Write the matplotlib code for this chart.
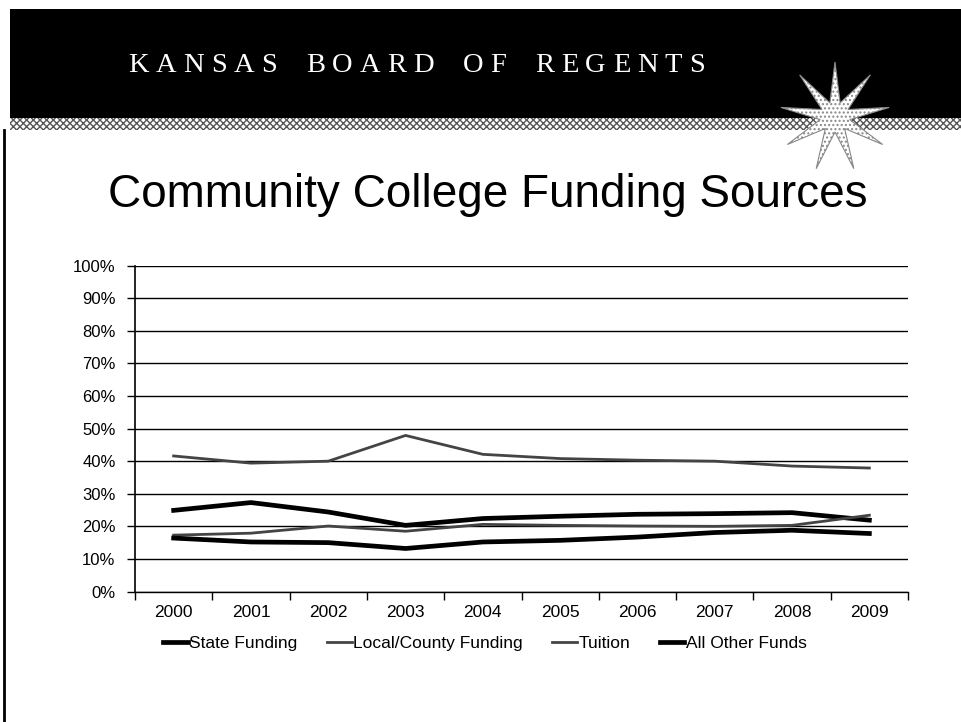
import numpy as np
import matplotlib.pyplot as plt
from matplotlib.patches import Rectangle, Polygon

years = ['2000', '2001', '2002', '2003', '2004', '2005', '2006', '2007', '2008', '2009']
state = [24.9, 27.3, 24.4, 20.3, 22.4, 23.1, 23.7, 23.9, 24.2, 21.9]
local = [41.6, 39.4, 40.0, 47.9, 42.1, 40.8, 40.3, 40.0, 38.5, 37.9]
tuition = [17.3, 17.9, 20.1, 18.5, 20.6, 20.3, 20.1, 20.0, 20.3, 23.4]
other = [16.4, 15.2, 15.0, 13.2, 15.2, 15.7, 16.7, 18.1, 18.8, 17.8]
series_names = ['State Funding', 'Local/County Funding', 'Tuition', 'All Other Funds']
y_ticks = [0, 10, 20, 30, 40, 50, 60, 70, 80, 90, 100]

W, H = 962, 722
fig = plt.figure(figsize=(W / 100, H / 100), dpi=100)

# background layer in pixel coordinates (header band, star, page border)
bg = fig.add_axes([0, 0, 1, 1], zorder=0)
bg.set_xlim(0, W)
bg.set_ylim(H, 0)
bg.axis('off')
bg.add_patch(Rectangle((10, 9), W - 10, 109, facecolor='black', edgecolor='none'))
bg.add_patch(Rectangle((10, 118), W - 10, 12, facecolor='white', edgecolor='#555555',
                       hatch='xxxxx', linewidth=0))
bg.plot([4, 4], [130, H], color='black', lw=2)

# nine-point star
cx, cy, r_out, r_in = 835, 117, 55, 15
ang = np.linspace(0, 2 * np.pi, 18, endpoint=False)
rad = np.where(np.arange(18) % 2 == 0, r_out, r_in)
pts = np.column_stack([cx + rad * np.sin(ang), cy - rad * np.cos(ang)])
bg.add_patch(Polygon(pts, closed=True, facecolor='white', edgecolor='#888888',
                     hatch='....', linewidth=0.8))

# header text, letter-spaced serif
renderer = fig.canvas.get_renderer()
x = 128
for word in 'KANSAS BOARD OF REGENTS'.split():
    for ch in word:
        t = bg.text(x, 72, ch, color='white', fontsize=20.5, family='Liberation Serif',
                    va='baseline', ha='left')
        bb = t.get_window_extent(renderer)
        x += bb.width + 7
    x += 22

fig.text(488 / W, 1 - 207 / H, 'Community College Funding Sources', fontsize=33,
         family='Liberation Sans', ha='center', va='baseline')

ax = fig.add_axes([135 / W, 1 - 591.5 / H, (908 - 135) / W, (591.5 - 265.7) / H], zorder=1)
ax.patch.set_alpha(0)
xs = np.arange(len(years))
ax.plot(xs, state, color='black', lw=3.4, label=series_names[0])
ax.plot(xs, local, color='#444444', lw=2.0, label=series_names[1])
ax.plot(xs, tuition, color='#444444', lw=2.0, label=series_names[2])
ax.plot(xs, other, color='black', lw=3.4, label=series_names[3])

ax.set_xlim(-0.5, len(years) - 0.5)
ax.set_ylim(0, 100)
ax.set_yticks(y_ticks)
ax.set_yticklabels([f'{v}%' for v in y_ticks], family='Liberation Sans', fontsize=12)
ax.yaxis.grid(True, color='black', lw=1)
ax.set_axisbelow(True)
ax.set_xticks(np.arange(-0.5, len(years), 1.0))
ax.set_xticklabels([])
ax.set_xticks(xs, minor=True)
ax.set_xticklabels(years, minor=True, family='Liberation Sans', fontsize=12.5)
ax.tick_params(axis='x', which='major', direction='out', length=6, width=1)
ax.tick_params(axis='x', which='minor', length=0, pad=10)
ax.tick_params(axis='y', direction='out', length=6, width=1, pad=8)
for s in ['top', 'right']:
    ax.spines[s].set_visible(False)
ax.spines['left'].set_linewidth(1.2)
ax.spines['bottom'].set_linewidth(1)

fig.legend(loc='center', bbox_to_anchor=(485 / W, 1 - 643 / H), ncol=4, frameon=False,
           prop={'family': 'Liberation Sans', 'size': 12.5}, handlelength=1.4,
           handletextpad=0.1, columnspacing=1.7)

fig.savefig('out.png', dpi=100)
